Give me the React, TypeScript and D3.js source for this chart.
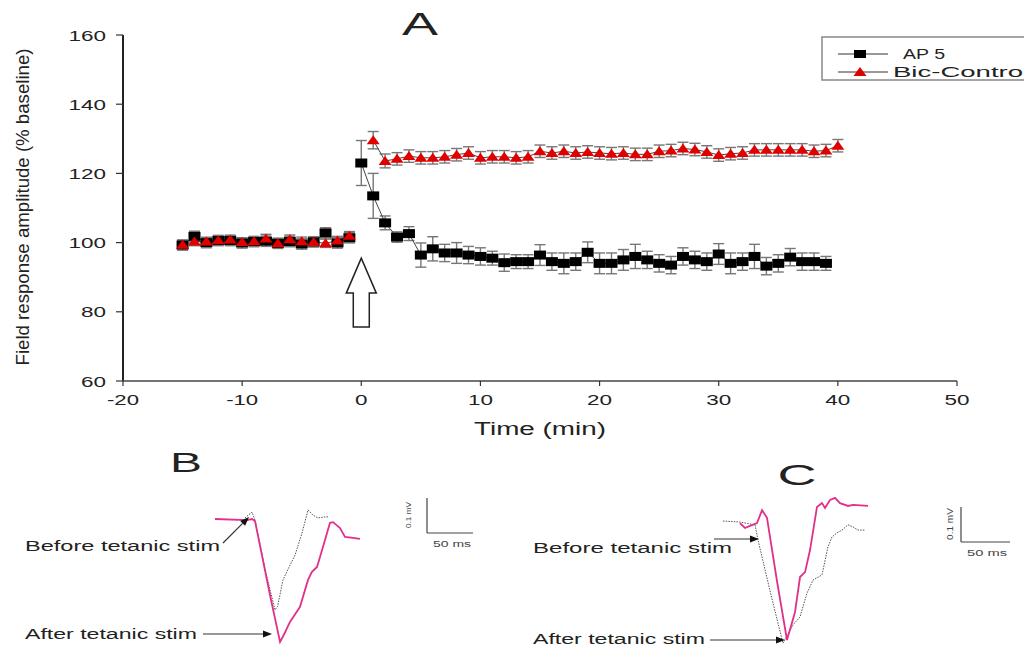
import React from 'react';
import * as d3 from 'd3';

// ---------- Panel A data ----------
const xTicks = [-20, -10, 0, 10, 20, 30, 40, 50];
const yTicks = [60, 80, 100, 120, 140, 160];

const baseTime = [-15, -14, -13, -12, -11, -10, -9, -8, -7, -6, -5, -4, -3, -2, -1];
const ap5Base = [99.3, 101.8, 100.0, 100.6, 100.6, 99.9, 100.3, 100.4, 99.8, 100.3, 99.6, 100.2, 102.8, 99.9, 101.4];
const ap5BaseErr = [1.5, 1.5, 1.5, 1.5, 1.5, 1.5, 1.5, 1.5, 1.5, 1.5, 1.5, 1.5, 1.5, 1.5, 1.5];
const bicBase = [99.4, 100.3, 100.3, 100.7, 100.9, 100.2, 100.4, 101.2, 99.8, 101.0, 100.4, 100.2, 99.8, 100.6, 102.0];
const bicBaseErr = [1.2, 1.2, 1.2, 1.2, 1.2, 1.2, 1.2, 1.2, 1.2, 1.2, 1.2, 1.2, 1.2, 1.2, 1.2];

const ap5PostTime = [0, 1, 2, 3, 4, 5, 6, 7, 8, 9, 10, 11, 12, 13, 14, 15, 16, 17, 18, 19, 20, 21, 22, 23, 24, 25, 26, 27, 28, 29, 30, 31, 32, 33, 34, 35, 36, 37, 38, 39];
const ap5Post = [123.0, 113.5, 105.7, 101.6, 102.6, 96.4, 98.2, 97.0, 97.0, 96.4, 96.0, 95.5, 94.2, 94.5, 94.5, 96.4, 94.5, 94.0, 94.5, 97.2, 94.0, 94.0, 95.0, 96.0, 95.0, 94.0, 93.5, 96.0, 95.0, 94.5, 96.7, 94.0, 94.5, 96.0, 93.2, 94.0, 95.8, 94.5, 94.5, 94.0];
const ap5PostErr = [6.5, 6.5, 2.0, 1.5, 2.0, 3.5, 3.5, 2.5, 3.0, 2.5, 2.5, 2.0, 2.5, 2.0, 2.0, 3.0, 2.5, 3.0, 2.5, 3.0, 3.0, 3.0, 3.0, 3.5, 2.5, 2.5, 2.5, 2.5, 2.5, 2.5, 3.0, 3.0, 2.5, 3.5, 2.5, 2.5, 2.5, 2.5, 2.5, 2.0];

const bicPostTime = [1, 2, 3, 4, 5, 6, 7, 8, 9, 10, 11, 12, 13, 14, 15, 16, 17, 18, 19, 20, 21, 22, 23, 24, 25, 26, 27, 28, 29, 30, 31, 32, 33, 34, 35, 36, 37, 38, 39, 40];
const bicPost = [129.6, 123.6, 124.2, 125.0, 124.5, 124.5, 124.8, 125.4, 125.9, 124.5, 124.8, 124.8, 124.5, 124.8, 126.4, 125.9, 126.4, 125.9, 126.2, 125.9, 125.7, 125.9, 125.5, 125.5, 126.4, 126.6, 127.2, 126.9, 126.2, 125.3, 125.7, 125.9, 126.8, 126.8, 126.8, 126.8, 126.8, 126.4, 126.6, 128.0];
const bicPostErr = [2.5, 2.0, 1.8, 1.8, 1.8, 1.8, 1.8, 1.8, 1.8, 1.8, 1.8, 1.8, 1.8, 1.8, 1.8, 1.8, 1.8, 1.8, 1.8, 1.8, 1.8, 1.8, 1.8, 1.8, 1.8, 1.8, 1.8, 1.8, 1.8, 1.8, 1.8, 1.8, 1.8, 1.8, 1.8, 1.8, 1.8, 1.8, 1.8, 1.8];

// stimulation arrow (time, % baseline)
const stimArrow = { t: 0, tip: 95.5, head: 85.4, bottom: 75.6 };

// ---------- Panel B / C traces: [ms, mV] ----------
const traceBAfter: [number, number][] = [
  [0, 0], [34.8, -0.003], [40.2, 0], [43.5, -0.006], [60, -0.22], [70.7, -0.351], [75, -0.33], [81.5, -0.294],
  [92.4, -0.251], [101.1, -0.174], [105.4, -0.151], [110.9, -0.137], [116.3, -0.089], [125, -0.011],
  [128.3, -0.009], [135.9, -0.026], [141.3, -0.051], [150, -0.054], [157.6, -0.057],
];
const traceBBefore: [number, number][] = [
  [32.6, 0.003], [40.2, 0.02], [43.5, -0.003], [55, -0.15], [65.2, -0.26], [68, -0.25], [73.9, -0.174],
  [80, -0.14], [87, -0.103], [94.6, -0.04], [101.1, 0.026], [106.5, 0.011], [112, 0.003],
  [119.6, 0.006], [122.8, 0.006],
];
const traceCAfter: [number, number][] = [
  [17.3, -0.006], [22.4, -0.02], [27.6, -0.014], [34.7, -0.006], [39.8, 0.031], [44.9, 0.009],
  [55, -0.17], [65.3, -0.34], [73.5, -0.26], [78.6, -0.16], [83.7, -0.146], [88.8, -0.083],
  [95.9, 0.04], [101, 0.051], [104.1, 0.037], [109.2, 0.06], [114.3, 0.066], [119.4, 0.051],
  [127.6, 0.043], [132.7, 0.046], [148, 0.043],
];
const traceCBefore: [number, number][] = [
  [0, 0], [17.3, -0.003], [32.7, -0.011], [35.7, -0.054], [48, -0.2], [61.2, -0.349], [71.4, -0.297],
  [78.6, -0.274], [85.7, -0.206], [91.8, -0.169], [101, -0.154], [107.1, -0.074], [111.2, -0.046],
  [116.3, -0.034], [121.4, -0.026], [127.6, -0.011], [132.7, -0.017], [137.8, -0.026], [144.9, -0.026],
];

const FONT = 'Arial, "Liberation Sans", Helvetica, sans-serif';
const PINK = '#e2308a';
const RED = '#e00000';

type TProps = {
  x: number; y: number; w?: number; size: number; anchor?: string; fill?: string;
  children: React.ReactNode; transform?: string;
};
const T = ({ x, y, w, size, anchor = 'start', fill = '#222', children, transform }: TProps) => (
  <text
    x={x}
    y={y}
    fontSize={size}
    fontFamily={FONT}
    textAnchor={anchor as any}
    fill={fill}
    textLength={w}
    lengthAdjust={w ? 'spacingAndGlyphs' : undefined}
    transform={transform}
  >
    {children}
  </text>
);

function Arrow({ x1, y1, x2, y2, color = '#333' }: { x1: number; y1: number; x2: number; y2: number; color?: string }) {
  const a = Math.atan2(y2 - y1, x2 - x1);
  const L = 9, W = 3.5;
  const bx = x2 - L * Math.cos(a), by = y2 - L * Math.sin(a);
  const px = -Math.sin(a) * W, py = Math.cos(a) * W;
  return (
    <g>
      <line x1={x1} y1={y1} x2={bx} y2={by} stroke={color} strokeWidth={1.2} />
      <path d={`M${x2},${y2}L${bx + px},${by + py}L${bx - px},${by - py}Z`} fill="#111" />
    </g>
  );
}

export default function App() {
  const x = d3.scaleLinear().domain([-20, 50]).range([123, 957]);
  const y = d3.scaleLinear().domain([60, 160]).range([381, 35]);

  const line = d3.line<[number, number]>().x((d) => x(d[0])).y((d) => y(d[1]));
  const zip = (t: number[], v: number[]) => t.map((ti, i) => [ti, v[i]] as [number, number]);

  const errBars = (t: number[], v: number[], e: number[], key: string) =>
    t.map((ti, i) => {
      const cx = x(ti);
      const y1 = y(v[i] - e[i]);
      const y2 = y(v[i] + e[i]);
      return (
        <g key={key + i} stroke="#777" strokeWidth={1.4}>
          <line x1={cx} x2={cx} y1={y1} y2={y2} />
          <line x1={cx - 5.5} x2={cx + 5.5} y1={y1} y2={y1} />
          <line x1={cx - 5.5} x2={cx + 5.5} y1={y2} y2={y2} />
        </g>
      );
    });

  const squares = (t: number[], v: number[], key: string) =>
    t.map((ti, i) => (
      <rect key={key + i} x={x(ti) - 6} y={y(v[i]) - 4.5} width={12} height={9} fill="#000" />
    ));
  const triangles = (t: number[], v: number[], key: string) =>
    t.map((ti, i) => {
      const cx = x(ti), cy = y(v[i]);
      return <path key={key + i} d={`M${cx},${cy - 5}L${cx - 6.5},${cy + 4}L${cx + 6.5},${cy + 4}Z`} fill={RED} />;
    });

  // panel B scales
  const xb = d3.scaleLinear().domain([0, 50]).range([215, 261]);
  const yb = d3.scaleLinear().domain([0, 0.1]).range([519, 484]);
  const lineB = d3.line<[number, number]>().x((d) => xb(d[0])).y((d) => yb(d[1]));
  // panel C scales
  const xc = d3.scaleLinear().domain([0, 50]).range([723, 772]);
  const yc = d3.scaleLinear().domain([0, 0.1]).range([521, 486]);
  const lineC = d3.line<[number, number]>().x((d) => xc(d[0])).y((d) => yc(d[1]));

  const ax = x(stimArrow.t);
  const aTip = y(stimArrow.tip), aHead = y(stimArrow.head), aBot = y(stimArrow.bottom);

  const barB = { x: 427, y: 533 };
  const barC = { x: 961, y: 542 };

  return (
    <svg width={1024} height={648} style={{ position: 'absolute', left: 0, top: 0, background: '#fff' }}>
      <rect width={1024} height={648} fill="#fff" />

      {/* Panel title A */}
      <T x={420} y={35} size={32} w={36} anchor="middle" fill="#222">A</T>

      {/* axes */}
      <line x1={123} x2={123} y1={35} y2={381} stroke="#222" strokeWidth={2} />
      <line x1={123} x2={957} y1={381} y2={381} stroke="#444" strokeWidth={1.3} />
      {yTicks.map((v) => (
        <g key={'yt' + v}>
          <line x1={116} x2={123} y1={y(v)} y2={y(v)} stroke="#333" strokeWidth={1.2} />
          <T x={106} y={y(v) + 5.5} size={15} w={String(v).length * 12.5} anchor="end">{v}</T>
        </g>
      ))}
      {xTicks.map((t) => (
        <g key={'xt' + t}>
          <line x1={x(t)} x2={x(t)} y1={381} y2={386} stroke="#333" strokeWidth={1.2} />
          <T x={x(t)} y={405} size={15} w={String(Math.abs(t)).length * 12.5 + (t < 0 ? 7 : 0)} anchor="middle">
            {t}
          </T>
        </g>
      ))}
      <T x={540} y={435} size={18} w={132} anchor="middle">Time (min)</T>
      <T x={0} y={0} size={18} w={317} anchor="middle" transform="translate(29,207) rotate(-90)">
        Field response amplitude (% baseline)
      </T>

      {/* error bars */}
      {errBars(baseTime, ap5Base, ap5BaseErr, 'eab')}
      {errBars(ap5PostTime, ap5Post, ap5PostErr, 'eap')}
      {errBars(baseTime, bicBase, bicBaseErr, 'ebb')}
      {errBars(bicPostTime, bicPost, bicPostErr, 'ebp')}

      {/* connecting lines */}
      <path d={line(zip(baseTime, ap5Base)) || ''} fill="none" stroke="#444" strokeWidth={1} />
      <path d={line(zip(ap5PostTime, ap5Post)) || ''} fill="none" stroke="#444" strokeWidth={1} />
      <path d={line(zip(baseTime, bicBase)) || ''} fill="none" stroke="#444" strokeWidth={1} />
      <path d={line(zip(bicPostTime, bicPost)) || ''} fill="none" stroke="#444" strokeWidth={1} />

      {/* markers */}
      {squares(baseTime, ap5Base, 'sb')}
      {squares(ap5PostTime, ap5Post, 'sp')}
      {triangles(baseTime, bicBase, 'tb')}
      {triangles(bicPostTime, bicPost, 'tp')}

      {/* stimulation arrow */}
      <path
        d={`M${ax},${aTip}L${ax - 15},${aHead}L${ax - 8},${aHead}L${ax - 8},${aBot}L${ax + 8},${aBot}L${ax + 8},${aHead}L${ax + 15},${aHead}Z`}
        fill="#fff"
        stroke="#222"
        strokeWidth={1.5}
      />

      {/* legend */}
      <rect x={822} y={37} width={230} height={43} fill="#fff" stroke="#888" strokeWidth={1.5} />
      <line x1={838} x2={888} y1={54} y2={54} stroke="#333" strokeWidth={1} />
      <rect x={854} y={50} width={12} height={8} fill="#000" />
      <T x={903} y={59} size={15} w={42}>AP 5</T>
      <line x1={838} x2={888} y1={72} y2={72} stroke="#333" strokeWidth={1} />
      <path d="M860,67L853.5,76L866.5,76Z" fill={RED} />
      <T x={893} y={77} size={15} w={130}>Bic-Contro</T>

      {/* ---------- Panel B ---------- */}
      <T x={186} y={472} size={27} w={32} anchor="middle">B</T>
      <path d={lineB(traceBBefore) || ''} fill="none" stroke="#555" strokeWidth={1} strokeDasharray="1.5 1.2" />
      <path d={lineB(traceBAfter) || ''} fill="none" stroke={PINK} strokeWidth={1.8} />
      <T x={25} y={551} size={14} w={195}>Before tetanic stim</T>
      <Arrow x1={223} y1={543} x2={249} y2={517} />
      <T x={25} y={639} size={14} w={172}>After tetanic stim</T>
      <Arrow x1={203} y1={634} x2={272} y2={634} />
      <line x1={barB.x} x2={barB.x} y1={barB.y} y2={barB.y - (yb(0) - yb(0.1))} stroke="#444" strokeWidth={1.2} />
      <line x1={barB.x} x2={barB.x + (xb(50) - xb(0))} y1={barB.y} y2={barB.y} stroke="#444" strokeWidth={1.2} />
      <T x={0} y={0} size={8} w={26} anchor="middle" fill="#444" transform="translate(411,515) rotate(-90)">0.1 mV</T>
      <T x={452} y={547} size={8.5} w={38} anchor="middle" fill="#444">50 ms</T>

      {/* ---------- Panel C ---------- */}
      <T x={797} y={485} size={30} w={39} anchor="middle">C</T>
      <path d={lineC(traceCBefore) || ''} fill="none" stroke="#555" strokeWidth={1} strokeDasharray="1.5 1.2" />
      <path d={lineC(traceCAfter) || ''} fill="none" stroke={PINK} strokeWidth={1.8} />
      <T x={533} y={553} size={14} w={199}>Before tetanic stim</T>
      <Arrow x1={714} y1={539} x2={759} y2={539} />
      <T x={533} y={644} size={14} w={172}>After tetanic stim</T>
      <Arrow x1={710} y1={640} x2={785} y2={640} />
      <line x1={barC.x} x2={barC.x} y1={barC.y} y2={barC.y - (yc(0) - yc(0.1))} stroke="#444" strokeWidth={1.2} />
      <line x1={barC.x} x2={barC.x + (xc(50) - xc(0))} y1={barC.y} y2={barC.y} stroke="#444" strokeWidth={1.2} />
      <T x={0} y={0} size={8.5} w={32} anchor="middle" fill="#444" transform="translate(953,524) rotate(-90)">0.1 mV</T>
      <T x={987} y={556} size={8.5} w={40} anchor="middle" fill="#444">50 ms</T>
    </svg>
  );
}
